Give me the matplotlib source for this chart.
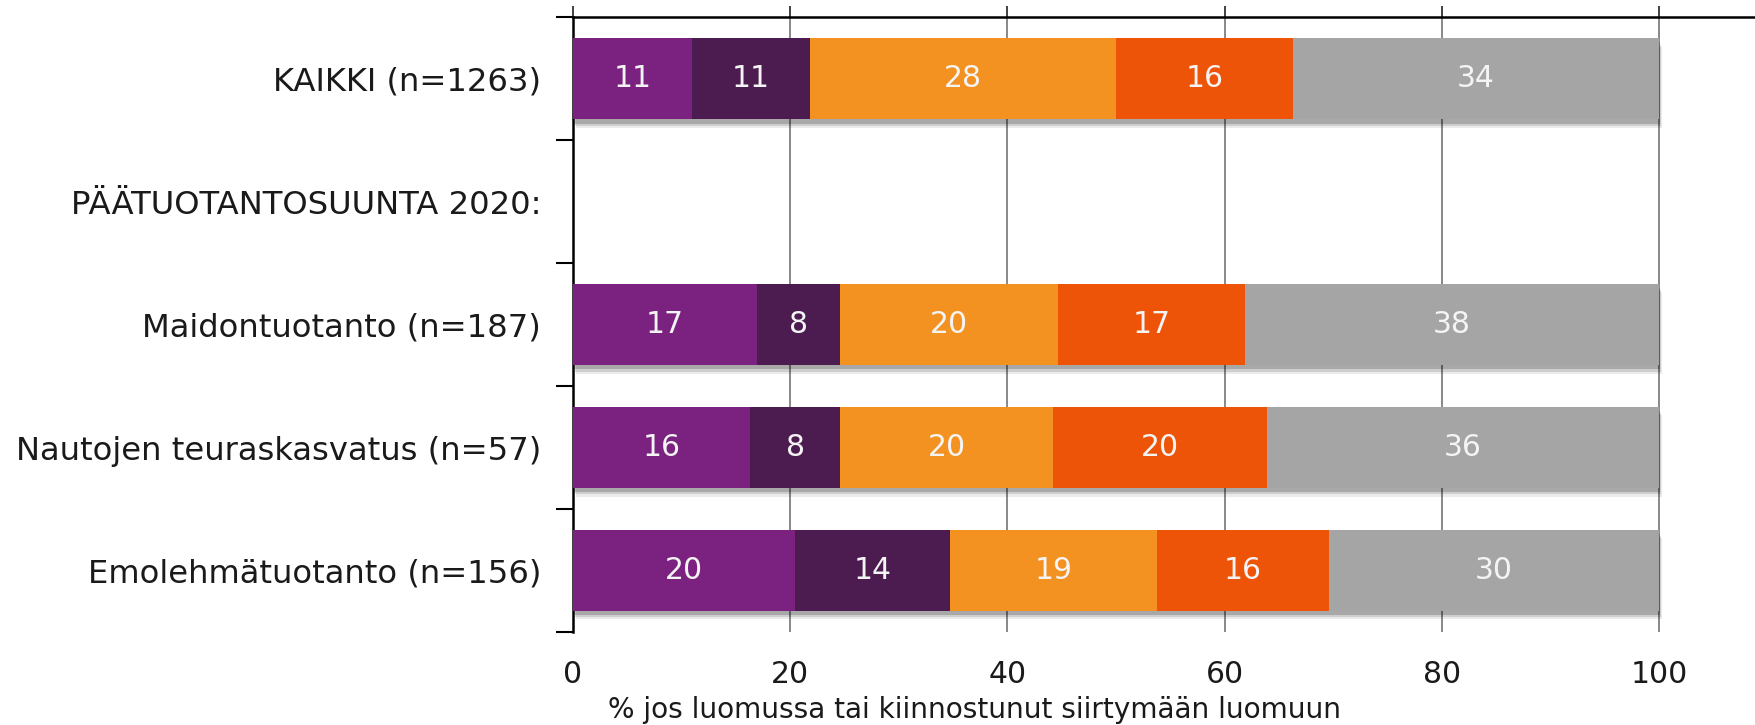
import matplotlib
matplotlib.use("Agg")
import matplotlib.pyplot as plt
import matplotlib.patheffects as pe
import numpy as np

categories = ["KAIKKI (n=1263)", "PÄÄTUOTANTOSUUNTA 2020:", "Maidontuotanto (n=187)",
              "Nautojen teuraskasvatus (n=57)", "Emolehmätuotanto (n=156)"]
# segment values per category (None = header row without bar)
seg1 = [11.0, None, 16.9, 16.3, 20.4]
seg2 = [10.8, None, 7.7, 8.3, 14.3]
seg3 = [28.2, None, 20.1, 19.6, 19.1]
seg4 = [16.3, None, 17.2, 19.7, 15.8]
seg5 = [33.7, None, 38.1, 36.1, 30.4]
series = [seg1, seg2, seg3, seg4, seg5]
colors = ["#7B2280", "#4C1C50", "#F39220", "#EE5407", "#A5A5A5"]
xticks = [0, 20, 40, 60, 80, 100]
xlabel = "% jos luomussa tai kiinnostunut siirtymään luomuun"

W, H = 1755, 725
fig = plt.figure(figsize=(W / 100, H / 100), dpi=100)
ax = fig.add_axes([573 / W, 1 - 632 / H, 1 - 573 / W, (632 - 17.4) / H])

xmax = 100 * (1755 - 573) / (1659 - 573)
ax.set_xlim(0, xmax)
ax.set_ylim(len(categories) - 0.5, -0.5)

shadow = [pe.SimplePatchShadow(offset=(2, -6), shadow_rgbFace="black", alpha=0.08),
          pe.SimplePatchShadow(offset=(1.5, -4.5), shadow_rgbFace="black", alpha=0.12),
          pe.SimplePatchShadow(offset=(1, -3), shadow_rgbFace="black", alpha=0.18),
          pe.Normal()]

for i, cat in enumerate(categories):
    left = 0.0
    for s, col in zip(series, colors):
        v = s[i]
        if v is None:
            continue
        b = ax.barh(i, v, left=left, height=0.66, color=col, zorder=3)
        for p in b.patches:
            p.set_path_effects(shadow)
        ax.text(left + v / 2, i, f"{round(v):d}", ha="center", va="center",
                color="#F4F4F4", fontsize=21.5, zorder=5)
        left += v

# grid
for xv in xticks[1:]:
    ax.axvline(xv, color="#7F7F7F", lw=1.3, zorder=1)

ax.set_xticks(xticks)
ax.set_xticklabels([str(t) for t in xticks], fontsize=21.5, color="#1a1a1a")
ax.tick_params(axis="x", bottom=False, top=True, labelbottom=True, labeltop=False,
               direction="out", length=8, width=1.3, color="#333333", pad=12)

ax.set_yticks(range(len(categories)))
ax.set_yticklabels(categories, fontsize=23.2, color="#1a1a1a")
ax.tick_params(axis="y", which="major", length=0, pad=23)
ax.set_yticks(np.arange(-0.5, len(categories), 1.0), minor=True)
ax.tick_params(axis="y", which="minor", length=12, width=1.5, color="black", direction="out")

for side in ["right", "bottom"]:
    ax.spines[side].set_visible(False)
ax.spines["top"].set_linewidth(1.8)
ax.spines["left"].set_linewidth(1.8)
ax.spines["top"].set_color("black")
ax.spines["left"].set_color("black")

fig.text(975 / W, 1 - 710 / H, xlabel, ha="center", va="center", fontsize=20.2, color="#1a1a1a")

fig.savefig("out.png", dpi=100)
